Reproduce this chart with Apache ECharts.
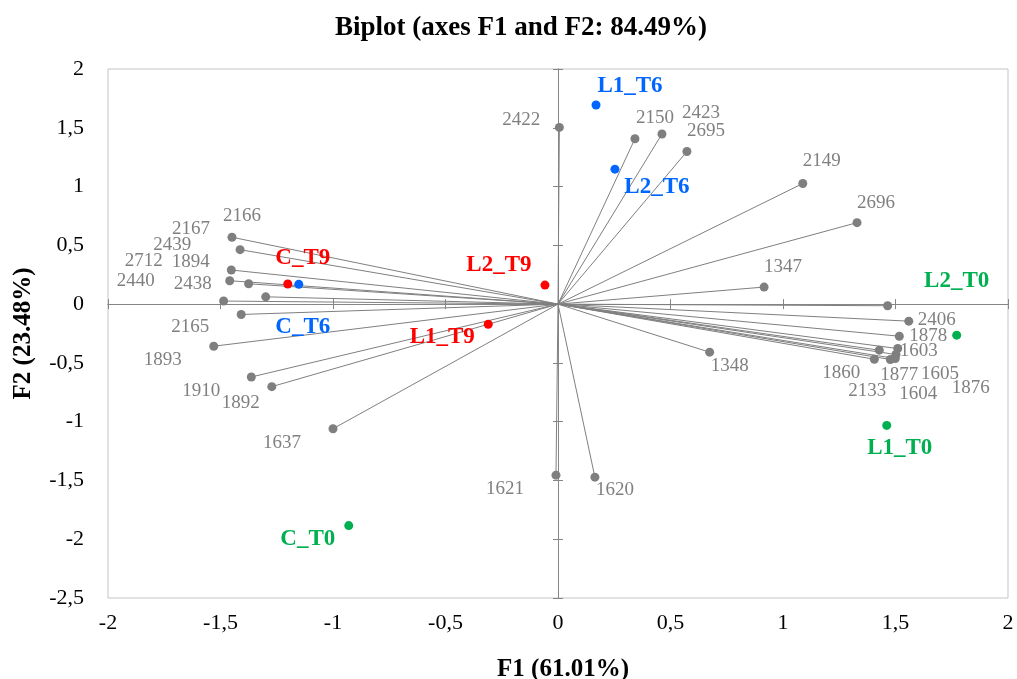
<!DOCTYPE html>
<html>
<head>
<meta charset="utf-8">
<title>Biplot (axes F1 and F2: 84.49%)</title>
<script src="https://cdn.jsdelivr.net/npm/echarts@6/dist/echarts.min.js"></script>
<style>
  html, body { margin: 0; padding: 0; background: #ffffff; }
  #chart { width: 1017px; height: 679px; }
</style>
</head>
<body>
<div id="chart"></div>
<script>
// Variable loadings (F1, F2)
const varNames = ['2422','2150','2423','2695','2149','2696','1347','1348','1620','1621','1637',
  '2406','1878','1603','1860','2133','1877','1604','1605','1876',
  '2166','2167','2439','2712','1894','2440','2438','2165','1893','1910','1892'];
const varF1 = [0.006, 0.342, 0.462, 0.573, 1.088, 1.329, 0.916, 0.674, 0.164, -0.009, -1.000,
  1.559, 1.517, 1.510, 1.428, 1.406, 1.477, 1.499, 1.502, 1.465,
  -1.449, -1.413, -1.452, -1.459, -1.375, -1.486, -1.299, -1.408, -1.530, -1.363, -1.272];
const varF2 = [1.503, 1.407, 1.447, 1.298, 1.026, 0.693, 0.145, -0.409, -1.472, -1.455, -1.060,
  -0.145, -0.273, -0.378, -0.392, -0.469, -0.471, -0.463, -0.429, -0.014,
  0.569, 0.463, 0.290, 0.199, 0.173, 0.026, 0.062, -0.088, -0.358, -0.620, -0.702];

// Observation scores (F1, F2) and their sampling time
const obsNames = ['L1_T6','L2_T6','C_T6','C_T9','L2_T9','L1_T9','L2_T0','L1_T0','C_T0'];
const obsF1 = [0.169, 0.253, -1.152, -1.201, -0.058, -0.310, 1.772, 1.461, -0.930];
const obsF2 = [1.694, 1.148, 0.168, 0.171, 0.162, -0.171, -0.264, -1.032, -1.884];
const obsTime = ['T6','T6','T6','T9','T9','T9','T0','T0','T0'];

// Axis ticks
const xTicks = [-2, -1.5, -1, -0.5, 0, 0.5, 1, 1.5, 2];
const yTicks = [-2.5, -2, -1.5, -1, -0.5, 0, 0.5, 1, 1.5, 2];

// Styling
const timeColors = { T0: '#00B050', T6: '#0066FF', T9: '#FF0000' };
const grey = '#7F7F7F';
const serif = '"Liberation Serif", "Times New Roman", serif';

// Label placement (pixel offsets from each point)
const varLabelOffsets = [[-38,-7],[20,-21],[39,-21],[19,-21],[19,-22],[19,-20],[19,-20],[20,14],[20,13],[-51,14],[-51,14],
  [28,-1],[29,0],[21,2],[-38,23],[-7,32],[9,16],[23,35],[44,19],[83,82],
  [10,-21],[-49,-21],[-59,-25],[-86,-20],[-58,-22],[-88,-20],[-73,-13],[-51,13],[-51,14],[-50,14],[-31,16]];
const obsLabelOffsets = [[34,-19],[42,18],[4,43],[15,-26],[-46,-20],[-46,13],[0,-54],[13,23],[-41,13]];

const fmt = v => String(v).replace('.', ',');

const chart = echarts.init(document.getElementById('chart'), null, { renderer: 'canvas' });

const xMin = xTicks[0], xMax = xTicks[xTicks.length - 1];
const yMin = yTicks[0], yMax = yTicks[yTicks.length - 1];
const step = 0.5;

// Axis drawn through the origin, with ticks on one side; two of them form crossing ticks
function zeroAxis(pos, min, max) {
  return {
    type: 'value', min: min, max: max, interval: step, position: pos,
    axisLine: { show: true, onZero: true, onZeroAxisIndex: 0, lineStyle: { color: '#868686', width: 1 } },
    axisTick: { show: true, length: 5, lineStyle: { color: '#868686', width: 1 } },
    axisLabel: { show: false }, splitLine: { show: false }
  };
}

const varData = varNames.map((n, i) => ({
  name: n, value: [varF1[i], varF2[i]],
  label: { offset: varLabelOffsets[i] }
}));
const rayData = varNames.map((n, i) => ({ coords: [[0, 0], [varF1[i], varF2[i]]] }));

const obsSeries = ['T0', 'T6', 'T9'].map(t => ({
  type: 'scatter', name: t, xAxisIndex: 0, yAxisIndex: 0, z: 5,
  symbol: 'circle', symbolSize: 9,
  itemStyle: { color: timeColors[t], opacity: 1 },
  data: obsNames.map((n, i) => ({ n, i })).filter(o => obsTime[o.i] === t).map(o => ({
    name: o.n, value: [obsF1[o.i], obsF2[o.i]],
    label: { offset: obsLabelOffsets[o.i] }
  })),
  label: {
    show: true, position: 'inside', formatter: '{b}',
    color: timeColors[t], fontFamily: serif, fontWeight: 'bold', fontSize: 23,
    align: 'center', verticalAlign: 'middle', opacity: 1
  },
  emphasis: { disabled: true }
}));

chart.setOption({
  animation: false,
  backgroundColor: '#ffffff',
  title: {
    text: 'Biplot (axes F1 and F2: 84.49%)', left: 330, top: 10,
    textStyle: { fontFamily: serif, fontWeight: 'bold', fontSize: 27, color: '#000000' }
  },
  grid: {
    left: 108, right: 9, top: 69, bottom: 81, show: true, borderColor: '#C4C4C4', borderWidth: 1,
    containLabel: false, outerBoundsMode: 'none'
  },
  xAxis: [
    {
      type: 'value', min: xMin, max: xMax, interval: step, position: 'bottom',
      name: 'F1 (61.01%)', nameLocation: 'middle', nameGap: 59,
      nameTextStyle: { fontFamily: serif, fontWeight: 'bold', fontSize: 25, color: '#000000', padding: [0, 0, 0, 10] },
      axisLine: { show: false, onZero: false }, axisTick: { show: false },
      axisLabel: { fontFamily: serif, fontSize: 22, color: '#000000', margin: 14, formatter: fmt },
      splitLine: { show: false }
    },
    zeroAxis('bottom', xMin, xMax), zeroAxis('top', xMin, xMax)
  ],
  yAxis: [
    {
      type: 'value', min: yMin, max: yMax, interval: step, position: 'left',
      name: 'F2 (23.48%)', nameLocation: 'middle', nameGap: 72,
      nameTextStyle: { fontFamily: serif, fontWeight: 'bold', fontSize: 25, color: '#000000' },
      axisLine: { show: false, onZero: false }, axisTick: { show: false },
      axisLabel: { fontFamily: serif, fontSize: 22, color: '#000000', margin: 24, formatter: fmt },
      splitLine: { show: false }
    },
    zeroAxis('left', yMin, yMax), zeroAxis('right', yMin, yMax)
  ],
  series: [
    {
      type: 'lines', coordinateSystem: 'cartesian2d', xAxisIndex: 0, yAxisIndex: 0, z: 2,
      lineStyle: { color: grey, width: 1, opacity: 1 },
      data: rayData, silent: true
    },
    {
      type: 'scatter', xAxisIndex: 0, yAxisIndex: 0, z: 3,
      symbol: 'circle', symbolSize: 9,
      itemStyle: { color: grey, opacity: 1 },
      data: varData,
      label: {
        show: true, position: 'inside', formatter: '{b}',
        color: '#808080', fontFamily: serif, fontSize: 19,
        align: 'center', verticalAlign: 'middle', opacity: 1
      },
      emphasis: { disabled: true }
    }
  ].concat(obsSeries)
});
</script>
</body>
</html>
